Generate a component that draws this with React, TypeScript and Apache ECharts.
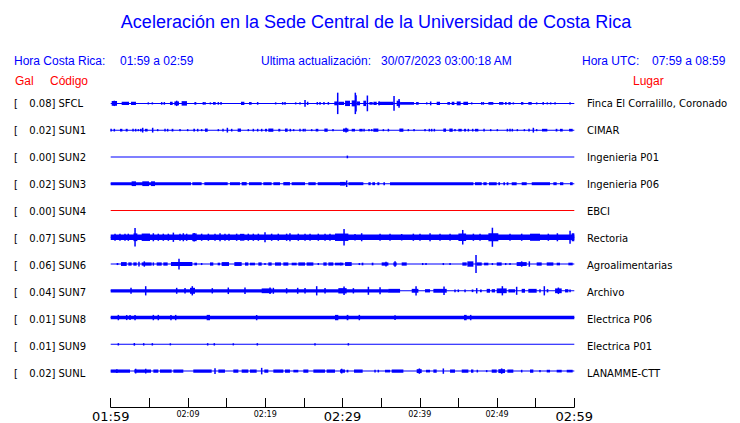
import React, { useEffect, useRef } from "react";
import * as echarts from "echarts";

// ---------- data ----------
const CODES = ["SFCL", "SUN1", "SUN2", "SUN3", "SUN4", "SUN5", "SUN6", "SUN7", "SUN8", "SUN9", "SUNL"];
const PLACES = [
  "Finca El Corralillo, Coronado", "CIMAR", "Ingenieria P01", "Ingenieria P06", "EBCI",
  "Rectoria", "Agroalimentarias", "Archivo", "Electrica P06", "Electrica P01", "LANAMME-CTT",
];
const PEAK_GAL = [0.08, 0.02, 0.0, 0.02, 0.0, 0.07, 0.06, 0.04, 0.01, 0.01, 0.02];
const FLAGGED = [false, false, false, false, true, false, false, false, false, false, false];
const TIME_TICKS = [0, 10, 20, 30, 40, 50, 60];
const TIME_LABELS = ["01:59", "02:09", "02:19", "02:29", "02:39", "02:49", "02:59"];
const MAJOR_TICKS = [0, 30, 60];

// envelope events per station: [startMinute, endMinute, halfAmplitudeGal]
const SFCL_EV = [
  [0.13, 0.82, 0.016], [0.47, 0.47, 0.018], [1.42, 2.37, 0.011], [2.63, 3.27, 0.011], [4.87, 4.87, 0.007],
  [5.39, 5.39, 0.007], [6.6, 6.6, 0.009], [6.94, 6.94, 0.009], [7.67, 8.02, 0.011], [8.24, 8.84, 0.013],
  [8.54, 8.54, 0.018], [9.18, 9.87, 0.015], [10.83, 11.08, 0.009], [11.99, 11.99, 0.009], [12.2, 12.2, 0.009],
  [12.9, 12.9, 0.007], [13.24, 13.59, 0.009], [13.93, 13.93, 0.009], [14.28, 14.28, 0.009], [16.86, 17.3, 0.011],
  [17.9, 18.24, 0.009], [19.02, 19.02, 0.009], [21.35, 21.35, 0.007], [22.26, 22.26, 0.009], [22.56, 22.56, 0.009],
  [23.94, 23.94, 0.007], [24.5, 24.5, 0.007], [25.15, 25.15, 0.022], [25.49, 25.49, 0.011], [26.74, 26.74, 0.009],
  [27.09, 27.09, 0.009], [27.6, 27.6, 0.009], [28.17, 28.17, 0.009], [28.94, 29.33, 0.013], [29.38, 29.38, 0.072],
  [29.46, 30.2, 0.011], [30.33, 30.97, 0.018], [31.19, 31.62, 0.02], [31.66, 31.66, 0.072], [31.75, 31.75, 0.055],
  [31.84, 32.27, 0.013], [32.7, 33.05, 0.018], [33.22, 33.22, 0.053], [33.48, 33.91, 0.009], [34.0, 34.43, 0.011],
  [34.64, 36.58, 0.011], [34.64, 34.86, 0.013], [36.67, 36.67, 0.05], [37.01, 37.45, 0.018], [37.32, 37.32, 0.029],
  [37.45, 39.26, 0.009], [39.52, 39.86, 0.009], [40.9, 40.9, 0.007], [41.41, 41.41, 0.013], [42.19, 42.62, 0.011],
  [43.57, 43.92, 0.009], [44.13, 44.48, 0.011], [44.78, 45.3, 0.013], [45.64, 46.25, 0.011], [46.72, 46.72, 0.007],
  [48.02, 48.02, 0.009], [48.23, 48.23, 0.009], [48.88, 49.52, 0.009], [50.26, 50.82, 0.009], [51.03, 51.25, 0.009],
  [51.47, 51.77, 0.009], [52.03, 52.2, 0.007], [53.1, 53.41, 0.009], [54.05, 54.49, 0.009], [55.13, 55.13, 0.007],
  [55.87, 56.08, 0.009], [56.51, 56.51, 0.007], [56.94, 56.94, 0.007], [57.51, 57.51, 0.007], [59.45, 59.45, 0.007],
];
const SUN1_EV = [
  [0.0, 0.1, 0.009], [0.47, 0.47, 0.009], [1.2, 1.51, 0.009], [1.94, 2.2, 0.009], [2.89, 2.89, 0.009],
  [3.23, 3.23, 0.009], [3.58, 3.58, 0.007], [3.79, 4.01, 0.009], [4.14, 4.14, 0.016], [4.44, 4.78, 0.009],
  [5.43, 5.43, 0.016], [6.08, 6.08, 0.007], [7.03, 7.03, 0.009], [7.37, 7.37, 0.009], [7.89, 8.11, 0.009],
  [8.97, 8.97, 0.007], [9.96, 9.96, 0.007], [10.69, 10.91, 0.009], [11.26, 11.26, 0.009], [11.77, 11.77, 0.007],
  [12.2, 12.55, 0.011], [13.93, 13.93, 0.007], [14.45, 14.62, 0.009], [15.1, 15.1, 0.016], [15.66, 15.66, 0.009],
  [16.43, 16.86, 0.011], [17.81, 17.81, 0.007], [18.46, 18.46, 0.009], [19.02, 19.02, 0.009], [19.54, 19.54, 0.009],
  [19.97, 20.23, 0.009], [20.4, 21.05, 0.011], [21.69, 21.95, 0.009], [22.56, 22.9, 0.011], [23.25, 23.25, 0.009],
  [23.68, 23.68, 0.007], [24.5, 24.5, 0.009], [24.93, 24.93, 0.009], [25.15, 25.15, 0.009], [26.01, 26.01, 0.007],
  [26.53, 26.87, 0.009], [27.65, 28.08, 0.011], [28.77, 28.77, 0.007], [30.06, 30.76, 0.011], [30.46, 30.46, 0.016],
  [31.19, 31.62, 0.009], [32.18, 32.61, 0.009], [32.79, 32.79, 0.009], [33.43, 33.43, 0.007], [33.78, 33.78, 0.007],
  [33.99, 34.64, 0.011], [35.29, 35.29, 0.007], [35.94, 35.94, 0.009], [37.36, 37.88, 0.011], [38.52, 38.52, 0.007],
  [39.26, 39.26, 0.007], [40.68, 40.68, 0.007], [41.24, 41.24, 0.009], [41.54, 41.54, 0.009], [41.89, 41.89, 0.009],
  [43.05, 43.4, 0.011], [43.83, 44.26, 0.011], [44.56, 44.56, 0.007], [44.99, 45.43, 0.009], [45.73, 45.99, 0.009],
  [46.29, 46.29, 0.009], [46.85, 46.85, 0.009], [47.15, 47.58, 0.009], [48.32, 48.32, 0.009], [49.18, 49.18, 0.007],
  [50.04, 50.04, 0.007], [51.34, 51.34, 0.009], [51.68, 51.68, 0.009], [51.98, 51.98, 0.009], [52.63, 52.63, 0.007],
  [53.54, 53.54, 0.007], [54.14, 54.14, 0.009], [54.7, 54.7, 0.016], [55.13, 55.13, 0.007], [55.82, 56.51, 0.009],
  [57.59, 57.81, 0.009], [58.15, 58.5, 0.009], [59.32, 59.79, 0.009],
];
const SUN2_EV = [[30.63, 30.63, 0.009]];
const SUN3_EV = [
  [0, 10.39, 0.01], [2.71, 3.27, 0.016], [4.09, 4.96, 0.016], [5.22, 5.73, 0.016], [10.56, 11.77, 0.01],
  [12.12, 15.14, 0.01], [15.44, 16.73, 0.01], [16.95, 17.6, 0.011], [17.9, 19.54, 0.01], [19.75, 20.83, 0.01],
  [21.05, 21.91, 0.01], [22.34, 23.2, 0.011], [23.42, 25.15, 0.01], [25.58, 26.53, 0.01], [26.79, 30.54, 0.01],
  [29.68, 30.3, 0.012], [30.54, 30.54, 0.022], [30.76, 32.7, 0.01], [33.35, 33.65, 0.01], [33.86, 34.21, 0.01],
  [34.51, 34.77, 0.01], [35.29, 35.5, 0.01], [36.15, 46.94, 0.01], [47.15, 48.02, 0.01], [48.23, 48.66, 0.01],
  [48.96, 49.96, 0.01], [50.17, 50.39, 0.01], [50.82, 51.03, 0.01], [51.25, 51.47, 0.01], [51.9, 52.54, 0.01],
  [53.19, 53.84, 0.01], [54.49, 56.86, 0.01], [57.29, 57.72, 0.01], [58.15, 58.58, 0.01], [59.45, 59.79, 0.01],
];
const SUN4_EV: number[][] = [];
const SUN5_EV = [
  [0, 60, 0.019], [0.56, 0.56, 0.024], [1.2, 1.2, 0.024], [1.85, 1.85, 0.024], [2.28, 2.28, 0.024],
  [2.95, 3.45, 0.026], [3.15, 3.15, 0.062], [4.01, 5.09, 0.025], [5.52, 5.52, 0.027], [6.16, 6.16, 0.024],
  [6.81, 6.81, 0.024], [7.46, 7.46, 0.024], [8.11, 8.11, 0.031], [8.97, 8.97, 0.024], [9.4, 9.4, 0.027],
  [9.83, 9.83, 0.024], [10.56, 11.13, 0.026], [10.8, 10.8, 0.029], [11.77, 11.77, 0.024], [12.64, 12.64, 0.024],
  [13.5, 13.5, 0.024], [14.15, 14.15, 0.027], [14.79, 14.79, 0.024], [15.31, 15.31, 0.024], [16.3, 16.3, 0.024],
  [16.73, 17.3, 0.023], [17.81, 17.81, 0.024], [18.46, 18.46, 0.024], [19.11, 19.11, 0.024], [19.97, 19.97, 0.033],
  [20.83, 20.83, 0.024], [21.69, 21.69, 0.024], [22.77, 22.77, 0.024], [23.2, 23.2, 0.027], [24.28, 24.28, 0.024],
  [25.15, 25.15, 0.024], [25.8, 25.8, 0.024], [26.87, 26.87, 0.024], [27.74, 27.74, 0.024], [28.38, 28.38, 0.024],
  [29.03, 30.76, 0.025], [30.2, 30.2, 0.056], [31.62, 31.62, 0.022], [32.48, 32.48, 0.027], [34.86, 34.86, 0.024],
  [36.15, 36.15, 0.024], [37.66, 37.66, 0.022], [39.17, 39.17, 0.024], [40.03, 40.03, 0.024], [41.33, 41.33, 0.027],
  [42.62, 42.62, 0.024], [43.92, 43.92, 0.024], [45.0, 46.0, 0.026], [45.56, 45.56, 0.049], [46.94, 46.94, 0.024],
  [47.8, 47.8, 0.024], [48.88, 50.17, 0.027], [49.4, 49.4, 0.064], [51.68, 51.68, 0.024], [53.19, 53.19, 0.024],
  [54.27, 55.56, 0.024], [56.64, 56.64, 0.024], [57.81, 57.81, 0.027], [59.45, 59.45, 0.044], [59.66, 60, 0.027],
];
const SUN6_EV = [
  [0.77, 0.99, 0.007], [1.33, 2.07, 0.013], [2.28, 2.71, 0.011], [2.93, 3.36, 0.011], [3.66, 3.66, 0.016],
  [4.01, 5.3, 0.011], [4.35, 4.35, 0.018], [5.52, 5.52, 0.011], [5.95, 6.6, 0.011], [6.81, 7.37, 0.011],
  [7.8, 10.57, 0.013], [8.84, 8.84, 0.036], [10.83, 11.17, 0.009], [11.77, 11.77, 0.007], [12.85, 13.28, 0.011],
  [13.84, 14.15, 0.009], [14.36, 15.31, 0.013], [16.0, 16.95, 0.013], [17.38, 17.81, 0.011], [18.03, 18.67, 0.009],
  [19.11, 19.54, 0.011], [19.97, 19.97, 0.007], [20.4, 20.83, 0.011], [21.26, 22.04, 0.011], [22.34, 22.99, 0.011],
  [23.42, 24.07, 0.009], [24.28, 25.15, 0.011], [25.36, 26.23, 0.011], [26.87, 26.87, 0.007], [27.52, 27.95, 0.011],
  [28.17, 28.81, 0.011], [29.03, 29.89, 0.009], [29.68, 30.11, 0.009], [30.33, 31.19, 0.013], [32.18, 32.18, 0.007],
  [32.48, 32.7, 0.009], [33.78, 34.0, 0.009], [35.07, 35.94, 0.011], [35.63, 35.63, 0.016], [36.58, 37.01, 0.011],
  [36.8, 36.8, 0.018], [37.66, 38.31, 0.011], [40.38, 40.38, 0.007], [40.81, 40.81, 0.007], [43.05, 43.05, 0.007],
  [43.92, 43.92, 0.007], [45.51, 46.07, 0.011], [46.16, 46.94, 0.018], [47.28, 47.28, 0.06], [47.37, 48.02, 0.011],
  [48.32, 48.88, 0.009], [49.4, 49.4, 0.007], [49.96, 50.6, 0.011], [51.12, 51.12, 0.007], [51.68, 51.68, 0.007],
  [52.54, 53.84, 0.013], [53.19, 53.19, 0.018], [54.18, 54.18, 0.018], [55.13, 55.78, 0.011], [56.43, 57.29, 0.011],
  [57.72, 58.15, 0.009], [59.23, 59.79, 0.009],
];
const SUN7_EV = [
  [0, 36.0, 0.011], [2.63, 2.63, 0.02], [4.53, 4.53, 0.031], [8.54, 8.54, 0.02], [9.62, 9.62, 0.018],
  [10.26, 10.91, 0.02], [10.56, 10.56, 0.031], [13.15, 13.15, 0.018], [15.22, 15.22, 0.022], [17.38, 17.38, 0.022],
  [19.54, 20.83, 0.016], [20.62, 20.62, 0.022], [21.05, 21.05, 0.02], [22.77, 22.77, 0.018], [24.2, 24.2, 0.02],
  [25.15, 25.15, 0.018], [26.66, 26.66, 0.031], [27.74, 27.74, 0.018], [29.46, 30.54, 0.018], [30.2, 30.2, 0.029],
  [31.41, 31.41, 0.018], [33.35, 33.35, 0.027], [34.86, 34.86, 0.024], [35.94, 37.45, 0.013], [38.96, 39.82, 0.013],
  [39.52, 39.52, 0.031], [40.68, 41.33, 0.011], [41.76, 43.49, 0.013], [43.14, 43.14, 0.029], [44.56, 44.56, 0.009],
  [44.99, 44.99, 0.009], [45.86, 45.86, 0.009], [46.72, 46.94, 0.009], [47.37, 47.37, 0.018], [47.8, 48.02, 0.009],
  [48.66, 49.09, 0.013], [49.31, 49.74, 0.011], [49.96, 51.25, 0.016], [50.69, 50.69, 0.031], [51.47, 52.33, 0.011],
  [52.54, 52.54, 0.027], [53.19, 53.62, 0.013], [54.05, 55.13, 0.013], [55.56, 55.56, 0.011], [56.12, 56.12, 0.031],
  [56.43, 56.64, 0.011], [57.51, 58.37, 0.016], [57.94, 57.94, 0.022], [58.8, 59.23, 0.011], [59.45, 59.45, 0.009],
];
const SUN8_EV = [
  [0, 60, 0.012], [0.99, 0.99, 0.018], [2.07, 2.07, 0.017], [2.5, 2.5, 0.017], [3.15, 3.15, 0.018],
  [5.52, 5.52, 0.018], [6.16, 6.16, 0.018], [7.8, 7.8, 0.018], [8.41, 8.41, 0.018], [12.42, 12.85, 0.018],
  [18.89, 18.89, 0.018], [29.03, 29.46, 0.018], [30.54, 30.76, 0.018], [32.18, 32.18, 0.018], [36.8, 36.8, 0.016],
  [45.73, 46.07, 0.018], [46.59, 46.59, 0.018],
];
const SUN9_EV = [
  [0.99, 0.99, 0.008], [3.06, 3.06, 0.009], [4.27, 4.27, 0.008], [5.39, 5.39, 0.008], [7.72, 7.72, 0.007],
  [12.55, 12.55, 0.008], [13.41, 13.41, 0.008], [15.87, 15.87, 0.007], [18.98, 18.98, 0.008], [26.44, 26.44, 0.007],
  [30.76, 30.76, 0.008],
];
const SUNL_EV = [
  [0, 2.5, 0.011], [0.8, 0.8, 0.013], [3.06, 5.22, 0.011], [3.23, 3.23, 0.016], [4.53, 4.53, 0.016],
  [5.52, 6.16, 0.011], [6.38, 7.89, 0.011], [8.11, 9.4, 0.011], [10.69, 13.07, 0.011], [13.5, 13.5, 0.02],
  [13.93, 14.79, 0.011], [15.87, 16.52, 0.011], [16.95, 17.81, 0.011], [18.03, 18.89, 0.011], [19.54, 19.54, 0.022],
  [19.88, 20.4, 0.011], [21.05, 22.34, 0.011], [22.56, 23.2, 0.011], [23.64, 24.28, 0.009], [24.93, 25.58, 0.011],
  [26.23, 27.74, 0.011], [27.95, 29.03, 0.011], [29.68, 30.32, 0.011], [29.89, 29.89, 0.016], [30.54, 30.76, 0.009],
  [31.49, 32.61, 0.011], [34.21, 34.21, 0.009], [34.64, 34.64, 0.009], [35.5, 36.15, 0.009], [36.37, 37.88, 0.011],
  [39.6, 40.25, 0.013], [39.95, 39.95, 0.018], [40.81, 41.33, 0.009], [41.76, 42.19, 0.011], [43.05, 43.05, 0.018],
  [43.92, 44.56, 0.011], [45.43, 46.29, 0.011], [46.63, 46.94, 0.011], [47.45, 47.45, 0.009], [48.66, 48.66, 0.007],
  [49.31, 49.96, 0.011], [50.17, 51.03, 0.013], [50.6, 50.6, 0.018], [51.34, 52.11, 0.011], [53.19, 53.19, 0.009],
  [54.27, 54.7, 0.011], [55.56, 55.56, 0.007], [56.43, 56.86, 0.009], [57.72, 58.37, 0.009], [59.02, 59.79, 0.009],
];
const TRACES = [SFCL_EV, SUN1_EV, SUN2_EV, SUN3_EV, SUN4_EV, SUN5_EV, SUN6_EV, SUN7_EV, SUN8_EV, SUN9_EV, SUNL_EV];

// ---------- layout ----------
const W = 740;
const H = 423;
const BLUE = "#0000ff";
const RED = "#ff0000";
const HEAD_FONT = "Liberation Sans";
const BODY_FONT = "DejaVu Sans";
const PLOT_LEFT = 110.7;
const PLOT_RIGHT = 574.3;
const FIRST_ROW_Y = 103.5;
const ROW_PX = 27;
const ROW_GAL = 0.18;
const AXIS_Y = 409.5;
const N = CODES.length;
const GRID_TOP = FIRST_ROW_Y - ROW_PX / 2;
const GRID_H = N * ROW_PX;

function buildOption() {
  const data: number[][] = [];
  TRACES.forEach((ev, row) => {
    data.push([row, 0, 60, 0]);
    ev.forEach((e) => data.push([row, e[0], e[1], e[2]]));
  });

  const txt = (text: string, x: number, y: number, color: string, size: number, font: string, align = "left") => ({
    type: "text",
    x,
    y,
    silent: true,
    style: { text, fill: color, fontSize: size, fontFamily: font, align, verticalAlign: "middle" },
  });

  const graphics: any[] = [
    txt("Aceleración en la Sede Central de la Universidad de Costa Rica", 376, 22, BLUE, 18, HEAD_FONT, "center"),
    txt("Hora Costa Rica:", 14, 61, BLUE, 12, HEAD_FONT),
    txt("01:59 a 02:59", 120, 61, BLUE, 12, HEAD_FONT),
    txt("Ultima actualización:", 261, 61, BLUE, 12, HEAD_FONT),
    txt("30/07/2023 03:00:18 AM", 381, 61, BLUE, 12, HEAD_FONT),
    txt("Hora UTC:", 582, 61, BLUE, 12, HEAD_FONT),
    txt("07:59 a 08:59", 652, 61, BLUE, 12, HEAD_FONT),
    txt("Gal", 15, 81, RED, 12, HEAD_FONT),
    txt("Código", 50, 81, RED, 12, HEAD_FONT),
    txt("Lugar", 633, 81, RED, 12, HEAD_FONT),
  ];
  CODES.forEach((code, i) => {
    const y = FIRST_ROW_Y + i * ROW_PX;
    graphics.push(txt("[", 14, y, "#000", 10, BODY_FONT));
    graphics.push(txt(PEAK_GAL[i].toFixed(2) + "]", 55.5, y, "#000", 10, BODY_FONT, "right"));
    graphics.push(txt(code, 58.5, y, "#000", 10, BODY_FONT));
    graphics.push(txt(PLACES[i], 587, y, "#000", 10, BODY_FONT));
  });

  return {
    animation: false,
    backgroundColor: "#ffffff",
    grid: { left: PLOT_LEFT, width: PLOT_RIGHT - PLOT_LEFT, top: GRID_TOP, height: GRID_H },
    xAxis: {
      type: "value",
      position: "bottom",
      min: 0,
      max: 60,
      interval: 5,
      offset: AXIS_Y - (GRID_TOP + GRID_H),
      axisLine: { show: true, onZero: false, lineStyle: { color: "#000", width: 1 } },
      axisTick: { show: true, inside: true, length: 9, lineStyle: { color: "#000", width: 1 } },
      splitLine: { show: false },
      axisLabel: {
        show: true,
        margin: 2,
        showMinLabel: true,
        showMaxLabel: true,
        hideOverlap: false,
        formatter: (v: number) => {
          const i = TIME_TICKS.indexOf(v);
          if (i < 0) return "";
          return MAJOR_TICKS.includes(v) ? `{b|${TIME_LABELS[i]}}` : `{s|${TIME_LABELS[i]}}`;
        },
        rich: {
          b: { fontSize: 13, fontFamily: BODY_FONT, color: "#000", lineHeight: 15 },
          s: { fontSize: 8, fontFamily: BODY_FONT, color: "#000", lineHeight: 11 },
        },
      },
    },
    yAxis: {
      type: "value",
      show: false,
      min: -(N - 0.5) * ROW_GAL,
      max: 0.5 * ROW_GAL,
      splitLine: { show: false },
    },
    graphic: graphics,
    series: [
      {
        type: "custom",
        clip: false,
        silent: true,
        data,
        renderItem: (params: any, api: any) => {
          const row = api.value(0);
          const t0 = api.value(1);
          const t1 = api.value(2);
          const amp = api.value(3);
          const yc = -row * ROW_GAL;
          const a = api.coord([t0, yc + amp]);
          const b = api.coord([t1, yc - amp]);
          let x = a[0];
          let w = b[0] - a[0];
          if (w < 1.5) {
            x = (a[0] + b[0]) / 2 - 0.75;
            w = 1.5;
          }
          let y = a[1];
          let h = b[1] - a[1];
          if (h < 1) {
            y = (a[1] + b[1]) / 2 - 0.5;
            h = 1;
          }
          return {
            type: "rect",
            shape: { x, y, width: w, height: h },
            style: { fill: FLAGGED[row] ? RED : BLUE },
          };
        },
      },
    ],
  };
}

export default function App() {
  const ref = useRef<HTMLDivElement>(null);
  useEffect(() => {
    if (!ref.current) return;
    const chart = echarts.init(ref.current, undefined, { renderer: "svg" });
    chart.setOption(buildOption() as any);
    return () => chart.dispose();
  }, []);
  return (
    <div
      ref={ref}
      style={{ position: "absolute", left: 0, top: 0, width: W, height: H, background: "#fff" }}
    />
  );
}
